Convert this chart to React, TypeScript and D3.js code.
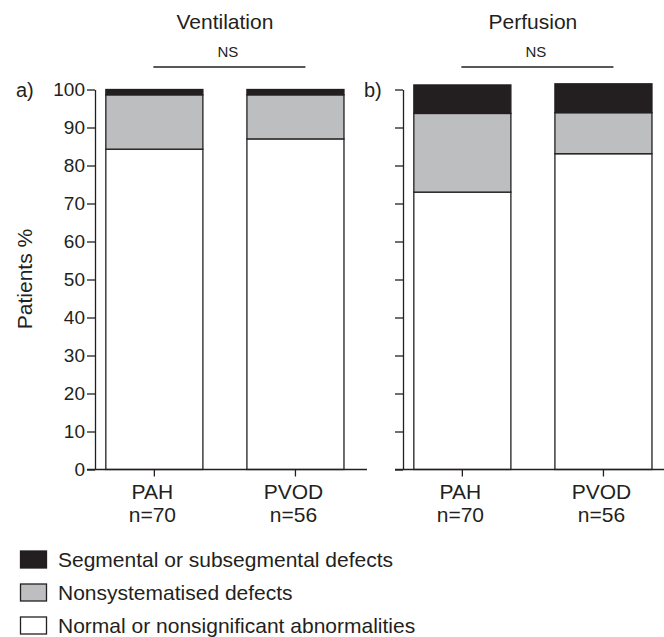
import { useEffect, useRef } from "react";
import * as d3 from "d3";

const groups = ["PAH", "PVOD"];
const groupN = ["n=70", "n=56"];
const categories = [
  "Normal or nonsignificant abnormalities",
  "Nonsystematised defects",
  "Segmental or subsegmental defects",
];
const catColors = ["#ffffff", "#bcbec0", "#231f20"];

// Ventilation (panel a)
const ventNormal = [84.3, 87.0];
const ventNonsys = [14.3, 11.6];
const ventSeg = [1.4, 1.4];

// Perfusion (panel b)
const perfNormal = [73.0, 83.1];
const perfNonsys = [20.7, 10.8];
const perfSeg = [7.5, 7.6];

const yTicks = [0, 10, 20, 30, 40, 50, 60, 70, 80, 90, 100];

const panels = [
  { title: "Ventilation", tag: "a)", normal: ventNormal, nonsys: ventNonsys, seg: ventSeg, x0: 95, labels: true },
  { title: "Perfusion", tag: "b)", normal: perfNormal, nonsys: perfNonsys, seg: perfSeg, x0: 403, labels: false },
];

const INK = "#231f20";
const FONT = "'Liberation Sans', Arial, Helvetica, sans-serif";

const App = () => {
  const svgRef = useRef<SVGSVGElement>(null);

  useEffect(() => {
    const svg = d3.select(svgRef.current);
    svg.selectAll("*").remove();

    const width = 664;
    const yScale = d3.scaleLinear().domain([0, 100]).range([469.5, 89.5]);
    const keys = ["normal", "nonsys", "seg"];

    panels.forEach((p) => {
      const g = svg.append("g");
      const xScale = d3
        .scaleBand()
        .domain(groups)
        .range([p.x0, p.x0 + 272])
        .paddingInner(0.312)
        .paddingOuter(0.12)
        .align(0.32);

      const rows = groups.map((name, i) => ({
        name,
        normal: p.normal[i],
        nonsys: p.nonsys[i],
        seg: p.seg[i],
      }));
      const stacked = d3.stack<any>().keys(keys)(rows);

      // bars
      stacked.forEach((layer, li) => {
        g.selectAll(null)
          .data(layer)
          .enter()
          .append("rect")
          .attr("x", (d: any) => xScale(d.data.name)!)
          .attr("width", xScale.bandwidth())
          .attr("y", (d) => yScale(d[1]))
          .attr("height", (d) => yScale(d[0]) - yScale(d[1]))
          .attr("fill", catColors[li])
          .attr("stroke", INK)
          .attr("stroke-width", 1.3);
      });

      // y axis
      const yAxis = d3
        .axisLeft(yScale)
        .tickValues(yTicks)
        .tickSize(8)
        .tickSizeOuter(0)
        .tickFormat((d) => (p.labels ? String(d) : ""));
      const ya = g.append("g").attr("transform", `translate(${p.x0},0)`).call(yAxis);
      ya.selectAll("path, line").attr("stroke", INK).attr("stroke-width", 1.3);
      ya.selectAll("text")
        .attr("fill", INK)
        .attr("font-size", 19)
        .attr("font-family", FONT)
        .attr("x", -10);

      // x axis
      const xa = g
        .append("g")
        .attr("transform", `translate(0,${yScale(0)})`)
        .call(d3.axisBottom(xScale).tickSize(7).tickSizeOuter(0).tickFormat(() => ""));
      xa.select(".domain").remove();
      xa.selectAll("line").attr("stroke", INK).attr("stroke-width", 1.3);
      g.append("line")
        .attr("x1", p.x0 - 8)
        .attr("x2", Math.min(p.x0 + 272, width))
        .attr("y1", yScale(0))
        .attr("y2", yScale(0))
        .attr("stroke", INK)
        .attr("stroke-width", 1.3);

      groups.forEach((name, i) => {
        const cx = xScale(name)! + xScale.bandwidth() / 2;
        const t = g
          .append("text")
          .attr("x", cx - 2)
          .attr("text-anchor", "middle")
          .attr("font-size", 21)
          .attr("font-family", FONT)
          .attr("fill", INK);
        t.append("tspan").attr("x", cx - 2).attr("y", 499).text(name);
        t.append("tspan").attr("x", cx - 2).attr("y", 522).text(groupN[i]);
      });

      // title + NS bracket
      const c1 = xScale(groups[0])! + xScale.bandwidth() / 2;
      const c2 = xScale(groups[1])! + xScale.bandwidth() / 2;
      g.append("text")
        .attr("x", (c1 + c2) / 2)
        .attr("y", 29)
        .attr("text-anchor", "middle")
        .attr("font-size", 21)
        .attr("font-family", FONT)
        .attr("fill", INK)
        .text(p.title);
      g.append("text")
        .attr("x", (c1 + c2) / 2 + 3)
        .attr("y", 57)
        .attr("text-anchor", "middle")
        .attr("font-size", 15)
        .attr("font-family", FONT)
        .attr("fill", INK)
        .text("NS");
      g.append("line")
        .attr("x1", c1 - 1)
        .attr("x2", c2 + 10)
        .attr("y1", 67)
        .attr("y2", 67)
        .attr("stroke", INK)
        .attr("stroke-width", 1.3);

      // panel tag
      g.append("text")
        .attr("x", p.labels ? 16 : 364)
        .attr("y", 97)
        .attr("font-size", 20)
        .attr("font-family", FONT)
        .attr("fill", INK)
        .text(p.tag);
    });

    // y label
    svg
      .append("text")
      .attr("transform", `translate(32,279) rotate(-90)`)
      .attr("text-anchor", "middle")
      .attr("font-size", 21)
      .attr("font-family", FONT)
      .attr("fill", INK)
      .text("Patients %");

    // legend (top to bottom: seg, nonsys, normal)
    const legendOrder = [2, 1, 0];
    const ly = d3.scalePoint().domain(legendOrder.map(String)).range([551, 617]);
    legendOrder.forEach((ci) => {
      const y = ly(String(ci))!;
      svg
        .append("rect")
        .attr("x", 20.5)
        .attr("y", y)
        .attr("width", 26)
        .attr("height", 17)
        .attr("fill", catColors[ci])
        .attr("stroke", INK)
        .attr("stroke-width", 1.3);
      svg
        .append("text")
        .attr("x", 58)
        .attr("y", y + 16)
        .attr("font-size", 21)
        .attr("font-family", FONT)
        .attr("fill", INK)
        .text(categories[ci]);
    });
  }, []);

  return (
    <div style={{ position: "absolute", left: 0, top: 0 }}>
      <svg ref={svgRef} width={664} height={637} style={{ display: "block", background: "#fff" }} />
    </div>
  );
};

export default App;
